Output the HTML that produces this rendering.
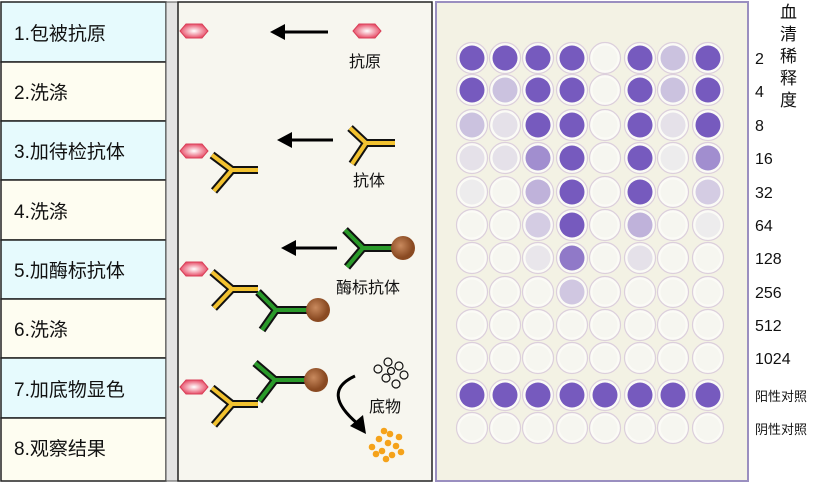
<!DOCTYPE html>
<html><head><meta charset="utf-8"><style>
body{margin:0;width:826px;height:483px;background:#fff;overflow:hidden;font-family:"Liberation Sans","Noto Sans CJK SC",sans-serif}
</style></head><body>
<svg width="826" height="483" viewBox="0 0 826 483" xmlns="http://www.w3.org/2000/svg" font-family="Liberation Sans, Noto Sans CJK SC, sans-serif">
<g stroke="#222" stroke-width="1.5">
<rect x="1" y="2" width="165" height="60" fill="#e6fafd"/>
<rect x="1" y="62" width="165" height="59" fill="#fefdf1"/>
<rect x="1" y="121" width="165" height="59" fill="#e6fafd"/>
<rect x="1" y="180" width="165" height="60" fill="#fefdf1"/>
<rect x="1" y="240" width="165" height="59" fill="#e6fafd"/>
<rect x="1" y="299" width="165" height="59" fill="#fefdf1"/>
<rect x="1" y="358" width="165" height="60" fill="#e6fafd"/>
<rect x="1" y="418" width="165" height="63" fill="#fefdf1"/>
</g>
<g font-size="19" fill="#111">
<text x="14" y="40">1.包被抗原</text>
<text x="14" y="99">2.洗涤</text>
<text x="14" y="158">3.加待检抗体</text>
<text x="14" y="218">4.洗涤</text>
<text x="14" y="277">5.加酶标抗体</text>
<text x="14" y="336">6.洗涤</text>
<text x="14" y="396">7.加底物显色</text>
<text x="14" y="455">8.观察结果</text>
</g>
<rect x="166" y="2" width="12" height="479" fill="#e4e4e4" stroke="#555"/>
<rect x="178" y="2" width="254" height="479" fill="#f7f6ef" stroke="#222" stroke-width="1.5"/>
<defs>
<radialGradient id="hg"><stop offset="0" stop-color="#fff"/><stop offset="1" stop-color="#e8506a"/></radialGradient>
<radialGradient id="bg" cx="0.4" cy="0.4"><stop offset="0" stop-color="#c98a5e"/><stop offset="1" stop-color="#8a4a22"/></radialGradient>
<polygon id="hex" points="0,0 6,-7 22,-7 28,0 22,7 6,7" fill="url(#hg)" stroke="#d84058" stroke-width="1"/>
</defs>
<use href="#hex" x="180" y="31"/><use href="#hex" x="353" y="31"/>
<use href="#hex" x="180" y="151"/><use href="#hex" x="180" y="269"/><use href="#hex" x="180" y="387"/>
<g stroke="#000" stroke-width="3" fill="#000">
<line x1="328" y1="32" x2="282" y2="32"/><polygon points="270,32 285,24 285,40" stroke="none"/>
<line x1="333" y1="140" x2="290" y2="140"/><polygon points="277,140 292,132 292,148" stroke="none"/>
<line x1="337" y1="248" x2="294" y2="248"/><polygon points="281,248 296,240 296,256" stroke="none"/>
<path d="M355,376 Q320,392 358,424" fill="none"/><polygon points="366,434 350,426 363,415" stroke="none"/>
</g>
<g fill="none" stroke-linecap="butt">
<g stroke="#111" stroke-width="8">
<path d="M212,155 L232,170 L258,170 M232,170 L214,191"/>
<path d="M350,128 L366,143 L395,143 M366,143 L352,164"/>
<path d="M212,272 L232,289 L258,289 M232,289 L214,308"/>
<path d="M212,388 L232,404 L258,404 M232,404 L214,425"/>
</g>
<g stroke="#f2c230" stroke-width="4">
<path d="M212,155 L232,170 L258,170 M232,170 L214,191"/>
<path d="M350,128 L366,143 L395,143 M366,143 L352,164"/>
<path d="M212,272 L232,289 L258,289 M232,289 L214,308"/>
<path d="M212,388 L232,404 L258,404 M232,404 L214,425"/>
</g>
<g stroke="#111" stroke-width="8">
<path d="M345,230 L363,248 L392,248 M363,248 L347,267"/>
<path d="M258,292 L276,310 L308,310 M276,310 L262,330"/>
<path d="M255,363 L275,380 L306,380 M275,380 L259,401"/>
</g>
<g stroke="#2a9a2a" stroke-width="4">
<path d="M345,230 L363,248 L392,248 M363,248 L347,267"/>
<path d="M258,292 L276,310 L308,310 M276,310 L262,330"/>
<path d="M255,363 L275,380 L306,380 M275,380 L259,401"/>
</g>
</g>
<circle cx="403" cy="248" r="12" fill="url(#bg)"/>
<circle cx="318" cy="310" r="12" fill="url(#bg)"/>
<circle cx="316" cy="380" r="12" fill="url(#bg)"/>
<g fill="none" stroke="#111" stroke-width="1.2">
<circle cx="378" cy="369" r="4"/><circle cx="388" cy="362" r="4"/><circle cx="399" cy="366" r="4"/><circle cx="404" cy="375" r="4"/><circle cx="386" cy="378" r="4"/><circle cx="396" cy="384" r="4"/><circle cx="391" cy="371" r="3.5"/>
</g>
<g fill="#f5a21a">
<circle cx="372" cy="447" r="3.3"/><circle cx="379" cy="439" r="3.3"/><circle cx="382" cy="451" r="3.3"/><circle cx="388" cy="443" r="3.3"/><circle cx="390" cy="434" r="3.3"/><circle cx="396" cy="446" r="3.3"/><circle cx="399" cy="437" r="3.3"/><circle cx="392" cy="455" r="3.3"/><circle cx="386" cy="459" r="3.3"/><circle cx="401" cy="452" r="3.3"/><circle cx="376" cy="454" r="3.3"/><circle cx="384" cy="431" r="3.3"/>
</g>
<g font-size="16" fill="#111">
<text x="349" y="67">抗原</text>
<text x="353" y="186">抗体</text>
<text x="336" y="293">酶标抗体</text>
<text x="369" y="412">底物</text>
</g>
<rect x="436" y="2" width="312" height="479" fill="#f3f2e4" stroke="#9a8fc0" stroke-width="2"/>
<g id="wells"></g>
<g font-size="16" fill="#111">
<text x="755" y="64">2</text><text x="755" y="97">4</text><text x="755" y="131">8</text><text x="755" y="164">16</text><text x="755" y="198">32</text><text x="755" y="231">64</text><text x="755" y="264">128</text><text x="755" y="298">256</text><text x="755" y="331">512</text><text x="755" y="364">1024</text>
</g>
<g font-size="13" fill="#111"><text x="755" y="401">阳性对照</text><text x="755" y="434">阴性对照</text></g>
<g font-size="17" fill="#111"><text x="780" y="18">血</text><text x="780" y="40">清</text><text x="780" y="62">稀</text><text x="780" y="84">释</text><text x="780" y="106">度</text></g>
</svg>
<script>
var xs=[472,505,538,572,605,640,673,708],ys=[58,90,125,158,192,225,258,292,325,358,395,428];
var m=[[3,3,3,3,0,3,1,3],[3,1,3,3,0,3,1,3],[1,.4,3,3,0,3,.4,3],[.4,.4,2,3,0,3,.2,2],[.2,0,1.3,3,0,3,0,.8],[0,0,.8,3,0,1.3,0,.2],[0,0,.3,2.4,0,.4,0,0],[0,0,0,.9,0,0,0,0],[0,0,0,0,0,0,0,0],[0,0,0,0,0,0,0,0],[3,3,3,3,3,3,3,3],[0,0,0,0,0,0,0,0]];
function col(v){var a=[246,246,240],b=[118,90,190],t=v/3;return "rgb("+a.map(function(c,i){return Math.round(c+(b[i]-c)*t)}).join(",")+")";}
var g=document.getElementById("wells"),s="";
for(var r=0;r<12;r++)for(var c=0;c<8;c++){s+='<circle cx="'+xs[c]+'" cy="'+ys[r]+'" r="15.5" fill="#fbfbf6" stroke="#dccfdc" stroke-width="1.2"/><circle cx="'+xs[c]+'" cy="'+ys[r]+'" r="12.5" fill="'+col(m[r][c])+'"/>';}
g.innerHTML=s;
</script>
</body></html>
